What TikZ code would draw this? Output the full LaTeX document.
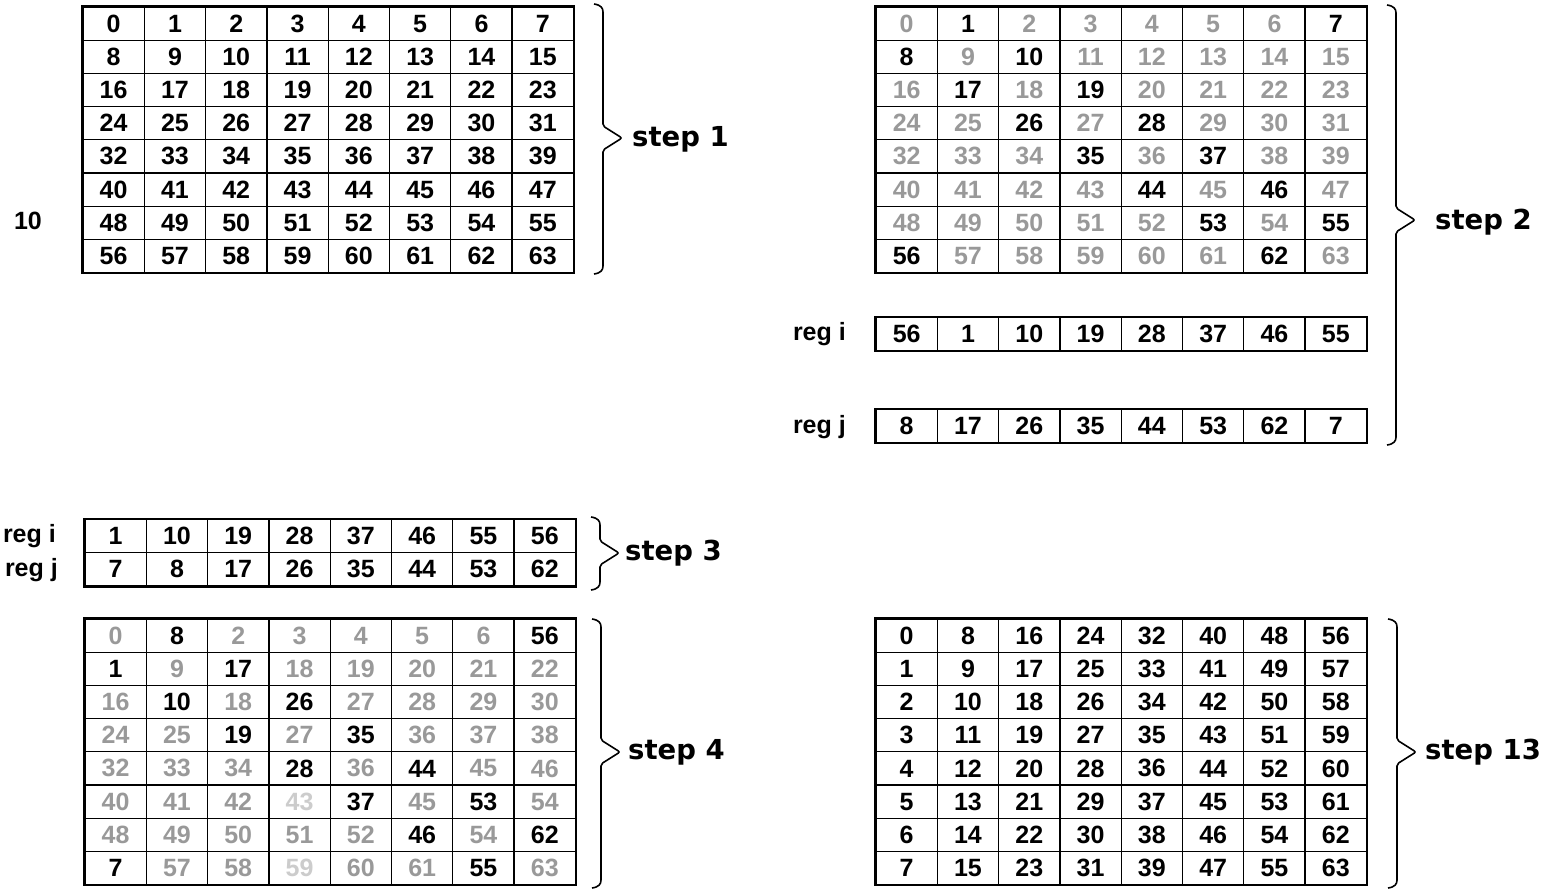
\documentclass[tikz,border=0pt]{standalone}
\usepackage{fontspec}
\newfontfamily\cellfontfam{Liberation Sans}
\newfontfamily\labfontfam{DejaVu Sans}
\tikzset{
  cell/.style={draw, line width=1.3pt, minimum width=61.3pt, minimum height=33.2pt,
    inner sep=0pt, font=\cellfontfam\bfseries\fontsize{25}{25}\selectfont},
  cb/.style={text=black},
  cg/.style={text=black!40},
  cl/.style={text=black!20},
  frame/.style={draw, line width=2.4pt},
  steplabel/.style={anchor=west, inner sep=0pt, font=\labfontfam\bfseries\fontsize{27.5}{27.5}\selectfont},
  reglabel/.style={anchor=east, inner sep=0pt, font=\cellfontfam\bfseries\fontsize{25}{25}\selectfont},
  bracepath/.style={line width=1.6pt, rounded corners=2pt},
}
\newcommand\drawgrid[5]{% name, x first centre, y first centre, last row index, rows
  \foreach \rowdata [count=\r from 0] in {#5} {
    \foreach \st/\v [count=\c from 0] in \rowdata {
      \node[cell,\st] (#1-\r-\c) at ({#2+\c*61.3},{#3+\r*33.2}) {\v};
    }
  }
  \draw[frame] (#1-0-0.north west) rectangle (#1-#4-7.south east);
}
\newcommand\mybrace[5]{% name, x, ytop, ybot, ytip
  \coordinate (#1-tip) at (#2+19,#5);
  \draw[bracepath] (#2-9,#3) .. controls (#2-2,#3+1) and (#2,#3+4) .. (#2,#3+10)
    -- (#2,#5-12) -- (#1-tip) -- (#2,#5+12) -- (#2,#4-10)
    .. controls (#2,#4-4) and (#2-2,#4-1) .. (#2-9,#4);
}
\begin{document}
\begin{tikzpicture}[x=1pt,y=-1pt]
\useasboundingbox (0,0) rectangle (1550,889);

% step 1
\drawgrid{sa}{113.65}{23.6}{7}{
 {cb/0,cb/1,cb/2,cb/3,cb/4,cb/5,cb/6,cb/7},
 {cb/8,cb/9,cb/10,cb/11,cb/12,cb/13,cb/14,cb/15},
 {cb/16,cb/17,cb/18,cb/19,cb/20,cb/21,cb/22,cb/23},
 {cb/24,cb/25,cb/26,cb/27,cb/28,cb/29,cb/30,cb/31},
 {cb/32,cb/33,cb/34,cb/35,cb/36,cb/37,cb/38,cb/39},
 {cb/40,cb/41,cb/42,cb/43,cb/44,cb/45,cb/46,cb/47},
 {cb/48,cb/49,cb/50,cb/51,cb/52,cb/53,cb/54,cb/55},
 {cb/56,cb/57,cb/58,cb/59,cb/60,cb/61,cb/62,cb/63}}
\node[reglabel, anchor=center] (ten) at (28,221) {10};
\mybrace{bra}{603}{4}{274}{138}
\node[steplabel] (stepone) at (632,139) {step 1};

% step 2
\drawgrid{sb}{906.65}{23.6}{7}{
 {cg/0,cb/1,cg/2,cg/3,cg/4,cg/5,cg/6,cb/7},
 {cb/8,cg/9,cb/10,cg/11,cg/12,cg/13,cg/14,cg/15},
 {cg/16,cb/17,cg/18,cb/19,cg/20,cg/21,cg/22,cg/23},
 {cg/24,cg/25,cb/26,cg/27,cb/28,cg/29,cg/30,cg/31},
 {cg/32,cg/33,cg/34,cb/35,cg/36,cb/37,cg/38,cg/39},
 {cg/40,cg/41,cg/42,cg/43,cb/44,cg/45,cb/46,cg/47},
 {cg/48,cg/49,cg/50,cg/51,cg/52,cb/53,cg/54,cb/55},
 {cb/56,cg/57,cg/58,cg/59,cg/60,cg/61,cb/62,cg/63}}
\drawgrid{ri}{906.65}{334}{0}{
 {cb/56,cb/1,cb/10,cb/19,cb/28,cb/37,cb/46,cb/55}}
\drawgrid{rj}{906.65}{426}{0}{
 {cb/8,cb/17,cb/26,cb/35,cb/44,cb/53,cb/62,cb/7}}
\node[reglabel] (regia) at (846,334) {reg i};
\node[reglabel] (regja) at (846,427) {reg j};
\mybrace{brb}{1396}{5}{445}{220}
\node[steplabel] (steptwo) at (1435,222) {step 2};

% step 3
\drawgrid{sc}{115.65}{536}{1}{
 {cb/1,cb/10,cb/19,cb/28,cb/37,cb/46,cb/55,cb/56},
 {cb/7,cb/8,cb/17,cb/26,cb/35,cb/44,cb/53,cb/62}}
\node[reglabel] (regib) at (56,536) {reg i};
\node[reglabel] (regjb) at (58,570) {reg j};
\mybrace{brc}{600}{517}{590}{553}
\node[steplabel] (stepthree) at (625,553) {step 3};

% step 4
\drawgrid{sd}{115.65}{635.6}{7}{
 {cg/0,cb/8,cg/2,cg/3,cg/4,cg/5,cg/6,cb/56},
 {cb/1,cg/9,cb/17,cg/18,cg/19,cg/20,cg/21,cg/22},
 {cg/16,cb/10,cg/18,cb/26,cg/27,cg/28,cg/29,cg/30},
 {cg/24,cg/25,cb/19,cg/27,cb/35,cg/36,cg/37,cg/38},
 {cg/32,cg/33,cg/34,cb/28,cg/36,cb/44,cg/45,cg/46},
 {cg/40,cg/41,cg/42,cl/43,cb/37,cg/45,cb/53,cg/54},
 {cg/48,cg/49,cg/50,cg/51,cg/52,cb/46,cg/54,cb/62},
 {cb/7,cg/57,cg/58,cl/59,cg/60,cg/61,cb/55,cg/63}}
\mybrace{brd}{601}{619}{888}{752}
\node[steplabel] (stepfour) at (628,752) {step 4};

% step 13
\drawgrid{se}{906.65}{635.6}{7}{
 {cb/0,cb/8,cb/16,cb/24,cb/32,cb/40,cb/48,cb/56},
 {cb/1,cb/9,cb/17,cb/25,cb/33,cb/41,cb/49,cb/57},
 {cb/2,cb/10,cb/18,cb/26,cb/34,cb/42,cb/50,cb/58},
 {cb/3,cb/11,cb/19,cb/27,cb/35,cb/43,cb/51,cb/59},
 {cb/4,cb/12,cb/20,cb/28,cb/36,cb/44,cb/52,cb/60},
 {cb/5,cb/13,cb/21,cb/29,cb/37,cb/45,cb/53,cb/61},
 {cb/6,cb/14,cb/22,cb/30,cb/38,cb/46,cb/54,cb/62},
 {cb/7,cb/15,cb/23,cb/31,cb/39,cb/47,cb/55,cb/63}}
\mybrace{bre}{1397}{619}{888}{752}
\node[steplabel] (stepthirteen) at (1425,752) {step 13};
\end{tikzpicture}
\end{document}
